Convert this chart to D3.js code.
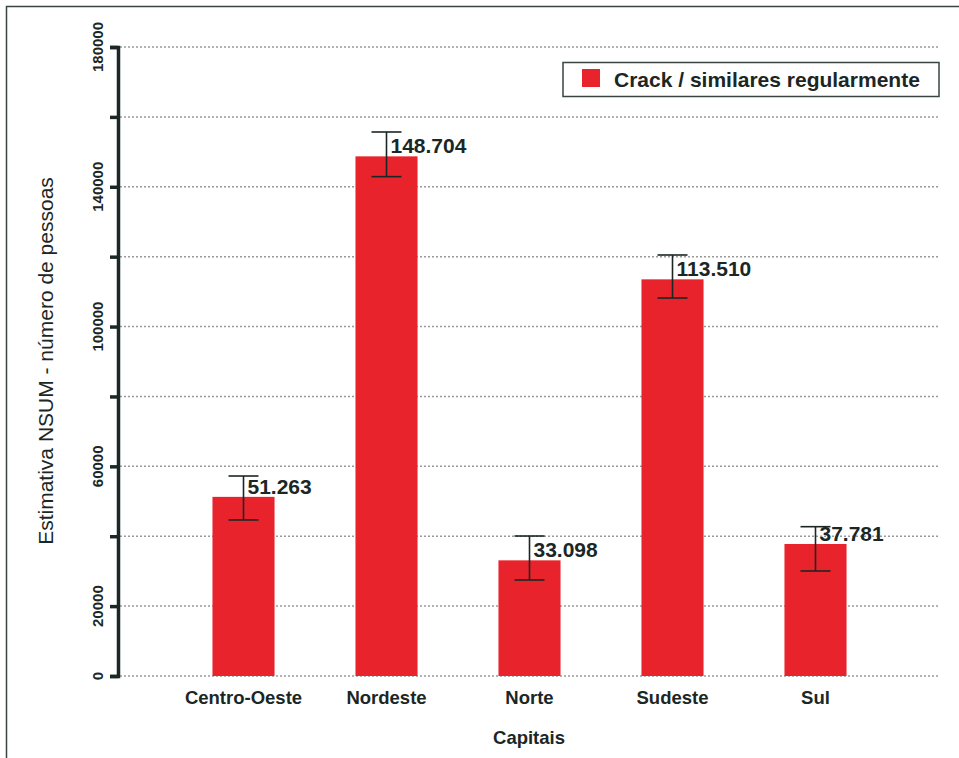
<!DOCTYPE html>
<html><head><meta charset="utf-8">
<script src="https://cdn.jsdelivr.net/npm/d3@7"></script>
<style>body{margin:0;background:#fff;}svg{display:block;font-family:"Liberation Sans",Arial,sans-serif;}</style>
</head><body>
<script>
const categories = ["Centro-Oeste","Nordeste","Norte","Sudeste","Sul"];
const values = [51263,148704,33098,113510,37781];
const lower = [44650,142900,27470,108170,30050];
const upper = [57230,155680,40060,120480,42730];
const valueLabels = ["51.263","148.704","33.098","113.510","37.781"];
const tickValues = [0,20000,40000,60000,80000,100000,120000,140000,160000,180000];
const tickLabels = ["0","20000","","60000","","100000","","140000","","180000"];
const seriesName = "Crack / similares regularmente";

const W=959,H=758, dark="#1b2725", red="#e8232b";
const svg=d3.select("body").append("svg").attr("width",W).attr("height",H);
svg.append("path").attr("d",`M6.5,${H} L6.5,6.5 L${W},6.5`).attr("fill","none").attr("stroke","#3a4442").attr("stroke-width",1.5);

const y=d3.scaleLinear().domain([0,180000]).range([676,47]);
const x=d3.scaleBand().domain(categories).range([172,887]).paddingInner(0.566).paddingOuter(0.283);

// grid
svg.append("g").selectAll("line").data(tickValues).join("line")
 .attr("x1",120).attr("x2",938).attr("y1",d=>y(d)).attr("y2",d=>y(d))
 .attr("stroke","#9a9a9a").attr("stroke-width",1.5).attr("stroke-dasharray","2,2");

// y axis
const ax=svg.append("g").attr("transform","translate(118,0)")
 .call(d3.axisLeft(y).tickValues(tickValues).tickSize(8).tickFormat(""));
ax.select(".domain").attr("stroke",dark).attr("stroke-width",3.5);
ax.selectAll(".tick line").attr("stroke",dark).attr("stroke-width",3.5);
svg.append("g").selectAll("text").data(tickValues.map((v,i)=>({v,l:tickLabels[i]}))).join("text")
 .attr("transform",d=>`translate(103,${y(d.v)}) rotate(-90)`)
 .attr("text-anchor","middle").attr("font-size",15).attr("font-weight","bold").attr("fill",dark).text(d=>d.l);

// bars
svg.append("g").selectAll("rect").data(values).join("rect")
 .attr("x",(d,i)=>x(categories[i])).attr("width",x.bandwidth())
 .attr("y",d=>y(d)).attr("height",d=>y(0)-y(d)).attr("fill",red);

// error bars
const eb=svg.append("g").attr("stroke",dark).attr("stroke-width",1.6);
categories.forEach((c,i)=>{
  const cx=x(c)+x.bandwidth()/2;
  eb.append("line").attr("x1",cx).attr("x2",cx).attr("y1",y(upper[i])).attr("y2",y(lower[i]));
  eb.append("line").attr("x1",cx-15).attr("x2",cx+15).attr("y1",y(upper[i])).attr("y2",y(upper[i]));
  eb.append("line").attr("x1",cx-15).attr("x2",cx+15).attr("y1",y(lower[i])).attr("y2",y(lower[i]));
});

// value labels
svg.append("g").selectAll("text").data(values).join("text")
 .attr("x",(d,i)=>x(categories[i])+x.bandwidth()/2+4).attr("y",d=>y(d)-3)
 .attr("font-size",21).attr("font-weight","bold").attr("fill",dark).text((d,i)=>valueLabels[i]);

// x labels
svg.append("g").selectAll("text").data(categories).join("text")
 .attr("x",d=>x(d)+x.bandwidth()/2).attr("y",704).attr("text-anchor","middle")
 .attr("font-size",18.5).attr("font-weight","bold").attr("fill",dark).text(d=>d);

svg.append("text").attr("x",529).attr("y",744).attr("text-anchor","middle")
 .attr("font-size",18.5).attr("font-weight","bold").attr("fill",dark).text("Capitais");
svg.append("text").attr("transform","translate(53,361) rotate(-90)").attr("text-anchor","middle")
 .attr("font-size",21).attr("fill",dark).text("Estimativa NSUM - número de pessoas");

// legend
const lg=svg.append("g");
lg.append("rect").attr("x",563).attr("y",62.5).attr("width",376).attr("height",34).attr("fill","#fff").attr("stroke","#3a4442").attr("stroke-width",1.5);
lg.append("rect").attr("x",582).attr("y",69).attr("width",18).attr("height",18).attr("fill",red);
lg.append("text").attr("x",614).attr("y",86.5).attr("font-size",21).attr("font-weight","bold").attr("fill",dark).text(seriesName);
</script>
</body></html>
